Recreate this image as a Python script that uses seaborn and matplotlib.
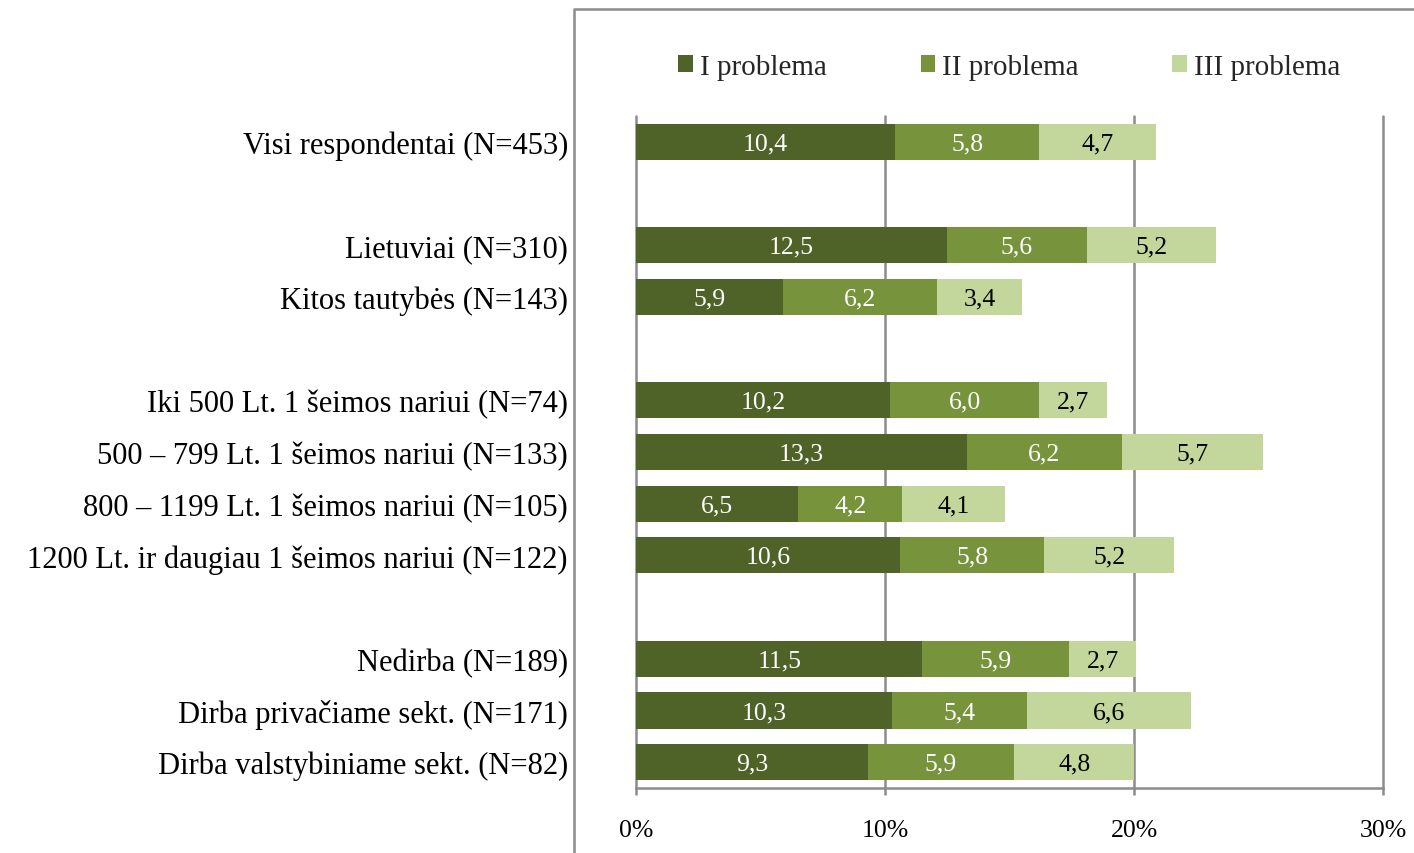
import matplotlib
matplotlib.use("Agg")
import matplotlib.pyplot as plt
from matplotlib.lines import Line2D
from matplotlib.patches import Patch
import numpy as np
import pandas as pd
import seaborn as sns

# Survey groups (blank strings mark the gaps between group blocks)
groups = [
    "Visi respondentai (N=453)",
    "",
    "Lietuviai (N=310)",
    "Kitos tautybės (N=143)",
    " ",
    "Iki 500 Lt. 1 šeimos nariui (N=74)",
    "500 – 799 Lt. 1 šeimos nariui (N=133)",
    "800 – 1199 Lt. 1 šeimos nariui (N=105)",
    "1200 Lt. ir daugiau 1 šeimos nariui (N=122)",
    "  ",
    "Nedirba (N=189)",
    "Dirba privačiame sekt. (N=171)",
    "Dirba valstybiniame sekt. (N=82)",
]
series_names = ["I problema", "II problema", "III problema"]
problem_1 = [10.4, None, 12.5, 5.9, None, 10.2, 13.3, 6.5, 10.6, None, 11.5, 10.3, 9.3]
problem_2 = [5.8, None, 5.6, 6.2, None, 6.0, 6.2, 4.2, 5.8, None, 5.9, 5.4, 5.9]
problem_3 = [4.7, None, 5.2, 3.4, None, 2.7, 5.7, 4.1, 5.2, None, 2.7, 6.6, 4.8]
x_ticks = [0, 10, 20, 30]
x_tick_labels = ["0%", "10%", "20%", "30%"]

colors = ["#4F6228", "#77933C", "#C3D69B"]
label_colors = ["white", "white", "black"]
grid_grey = "#8C8C8C"

sns.set_theme(style="white")
plt.rcParams["font.family"] = ["Liberation Serif", "DejaVu Serif"]

fig = plt.figure(figsize=(14.14, 8.54), dpi=100)
ax = fig.add_axes([636 / 1414, 1 - 789 / 854, (1383 - 636) / 1414, (789 - 117) / 854])

rows = []
for g, a, b, c in zip(groups, problem_1, problem_2, problem_3):
    if a is None:
        continue
    rows.append({"group": g, "s1": a, "s2": b, "s3": c})
df = pd.DataFrame(rows)
df["c1"] = df["s1"]
df["c2"] = df["s1"] + df["s2"]
df["c3"] = df["s1"] + df["s2"] + df["s3"]

# Stacked bars: draw cumulative totals from the longest to the shortest
for cum_col, col in zip(["c3", "c2", "c1"], colors[::-1]):
    sns.barplot(data=df, x=cum_col, y="group", order=groups, color=col,
                width=0.7, orient="h", ax=ax, linewidth=0, saturation=1)

# Segment value labels
pos = {g: i for i, g in enumerate(groups)}
for _, r in df.iterrows():
    y = pos[r["group"]]
    start = 0
    for k, key in enumerate(["s1", "s2", "s3"]):
        v = r[key]
        ax.text(start + v / 2, y + 0.03, f"{v:.1f}".replace(".", ","), ha="center",
                va="center", color=label_colors[k], fontsize=18.5)
        start += v

ax.set_xlim(0, 30)
ax.set_ylim(len(groups) - 0.5, -0.5)
ax.set_xlabel("")
ax.set_ylabel("")
ax.set_xticks(x_ticks)
ax.set_xticklabels(x_tick_labels, fontsize=18.5)
ax.set_yticks(range(len(groups)))
ax.set_yticklabels([g.strip() for g in groups], fontsize=22)
ax.tick_params(axis="y", length=0, pad=49, labelcolor="black")
ax.tick_params(axis="x", direction="out", length=5, width=1.8, color=grid_grey,
               pad=17, labelcolor="black", bottom=True)

for x in x_ticks:
    ax.axvline(x, color=grid_grey, lw=1.8, zorder=0, clip_on=False)
for s in ["top", "right", "left"]:
    ax.spines[s].set_visible(False)
ax.spines["bottom"].set_color(grid_grey)
ax.spines["bottom"].set_linewidth(1.8)

handles = [Patch(facecolor=c, edgecolor="none") for c in colors]
ax.legend(handles, series_names, loc="center", bbox_to_anchor=(0.5, 1.073),
          ncol=3, frameon=False, fontsize=21, handlelength=0.5, handleheight=0.5,
          handletextpad=0.25, columnspacing=3.2)

# Chart-area border (left and top edges)
xb = 574 / 1414
yb = 1 - 10 / 854
fig.add_artist(Line2D([xb, xb, 1.0], [0.0, yb, yb], transform=fig.transFigure,
                      color=grid_grey, lw=1.8))

fig.savefig("out.png", dpi=100)
